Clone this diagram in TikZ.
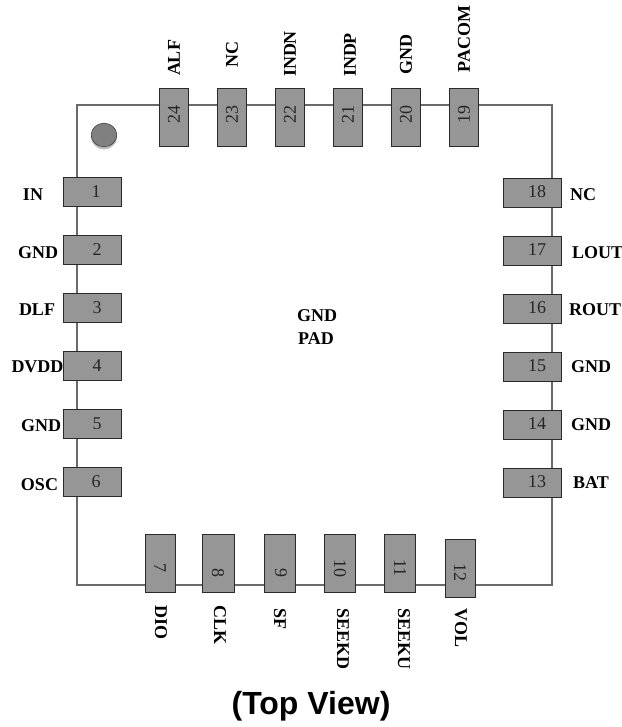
\documentclass[tikz,border=0pt]{standalone}
\usepackage{fontspec}
\setmainfont{Liberation Serif}
\newfontfamily\titlefont{Liberation Sans}
\definecolor{pinfill}{HTML}{969696}
\definecolor{pinedge}{HTML}{2A2A2A}
\definecolor{bodyline}{HTML}{6A6A6A}
\definecolor{dotfill}{HTML}{808080}
\definecolor{dotshade}{HTML}{BDBDBD}
\tikzset{
  hpin/.style={draw=pinedge,fill=pinfill,line width=0.9pt,minimum width=58pt,minimum height=29pt,inner sep=0pt,outer sep=0pt},
  vpin/.style={draw=pinedge,fill=pinfill,line width=0.9pt,minimum width=29pt,minimum height=58pt,inner sep=0pt,outer sep=0pt},
  bpin/.style={draw=pinedge,fill=pinfill,line width=0.9pt,minimum width=30.5pt,minimum height=58pt,inner sep=0pt,outer sep=0pt},
  num/.style={inner sep=0pt,text=black!85,font=\fontsize{18}{18}\selectfont},
  lab/.style={inner sep=0pt,font=\fontsize{18}{18}\selectfont\bfseries},
  bodyoutline/.style={draw=bodyline,line width=1.2pt,line join=miter}
}
\begin{document}
\begin{tikzpicture}[x=1pt,y=-1pt]
\clip (0,0) rectangle (621,727);
\fill[white] (0,0) rectangle (621,727);
% package outline
\coordinate (tl) at (77,105);
\coordinate (tr) at (552,105);
\coordinate (br) at (552,585);
\coordinate (bl) at (77,585);
\draw[bodyoutline] (tl) -- (tr) -- (br) -- (bl) -- cycle;
% index dot
\fill[dotshade] (104,137) ellipse (13 and 12.5);
\draw[fill=dotfill,draw=black!75,line width=0.6pt] (104,135) ellipse (12.8 and 11.8);
% left pins
\node[hpin] (p1) at (92.5,192) {};
\node[hpin] (p2) at (92.5,250) {};
\node[hpin] (p3) at (92.5,308) {};
\node[hpin] (p4) at (92.5,366) {};
\node[hpin] (p5) at (92.5,424) {};
\node[hpin] (p6) at (92.5,482) {};
% right pins
\node[hpin] (p18) at (532,192.5) {};
\node[hpin] (p17) at (532,250.5) {};
\node[hpin] (p16) at (532,308.5) {};
\node[hpin] (p15) at (532,366.5) {};
\node[hpin] (p14) at (532,424.5) {};
\node[hpin] (p13) at (532,482.5) {};
% top pins
\node[vpin] (p24) at (174,117) {};
\node[vpin] (p23) at (232,117) {};
\node[vpin] (p22) at (290,117) {};
\node[vpin] (p21) at (348,117) {};
\node[vpin] (p20) at (406,117) {};
\node[vpin] (p19) at (464,117) {};
% bottom pins
\node[bpin] (p7) at (160.5,563.5) {};
\node[bpin,minimum width=32.5pt] (p8) at (218.5,563.5) {};
\node[bpin] (p9) at (280,563.5) {};
\node[bpin] (p10) at (340,563.5) {};
\node[bpin] (p11) at (400,563.5) {};
\node[bpin] (p12) at (460.5,568) {};
% numbers
\node[num] (n1) at (96,191.5) {1};
\node[num] (n2) at (97,249.5) {2};
\node[num] (n3) at (97,308) {3};
\node[num] (n4) at (97,366) {4};
\node[num] (n5) at (97,423.5) {5};
\node[num] (n6) at (96,481.5) {6};
\node[num] (n18) at (537,192) {18};
\node[num] (n17) at (537,250) {17};
\node[num] (n16) at (537,308) {16};
\node[num] (n15) at (537,366) {15};
\node[num] (n14) at (537,424) {14};
\node[num] (n13) at (537,482) {13};
\node[num,rotate=90] (n24) at (174,115) {24};
\node[num,rotate=90] (n23) at (232,115) {23};
\node[num,rotate=90] (n22) at (290,115) {22};
\node[num,rotate=90] (n21) at (348,115) {21};
\node[num,rotate=90] (n20) at (406,115) {20};
\node[num,rotate=90] (n19) at (464,115) {19};
\node[num,rotate=-90] (n7) at (160,568) {7};
\node[num,rotate=-90] (n8) at (218,573) {8};
\node[num,rotate=-90] (n9) at (281,573) {9};
\node[num,rotate=-90] (n10) at (340,568) {10};
\node[num,rotate=-90] (n11) at (400,568) {11};
\node[num,rotate=-90] (n12) at (460,572) {12};
% left labels
\node[lab] (l1) at (33,194.5) {IN};
\node[lab] (l2) at (38,252.5) {GND};
\node[lab] (l3) at (37,310) {DLF};
\node[lab] (l4) at (37.5,367) {DVDD};
\node[lab] (l5) at (41,426) {GND};
\node[lab] (l6) at (39.5,485) {OSC};
% right labels
\node[lab,anchor=west] (l18) at (570,195) {NC};
\node[lab,anchor=west] (l17) at (572,253) {LOUT};
\node[lab,anchor=west] (l16) at (569,310) {ROUT};
\node[lab,anchor=west] (l15) at (571,367) {GND};
\node[lab,anchor=west] (l14) at (571,425) {GND};
\node[lab,anchor=west] (l13) at (573,483) {BAT};
% top labels
\node[lab,rotate=90] (l24) at (174,58) {ALF};
\node[lab,rotate=90] (l23) at (232,54.5) {NC};
\node[lab,rotate=90] (l22) at (290,54) {INDN};
\node[lab,rotate=90] (l21) at (350,55) {INDP};
\node[lab,rotate=90] (l20) at (406,54.5) {GND};
\node[lab,rotate=90] (l19) at (464,39) {PACOM};
% bottom labels
\node[lab,rotate=-90] (l7) at (161,622) {DIO};
\node[lab,rotate=-90] (l8) at (220,625) {CLK};
\node[lab,rotate=-90] (l9) at (280,619) {SF};
\node[lab,rotate=-90] (l10) at (343,639) {SEEKD};
\node[lab,rotate=-90] (l11) at (404,639) {SEEKU};
\node[lab,rotate=-90] (l12) at (461,628) {VOL};
% centre
\node[lab] (c1) at (317,316) {GND};
\node[lab] (c2) at (316,339) {PAD};
% title
\node[inner sep=0pt,font=\titlefont\fontsize{32}{32}\selectfont\bfseries] (title) at (311,706) {(Top View)};
\end{tikzpicture}
\end{document}
